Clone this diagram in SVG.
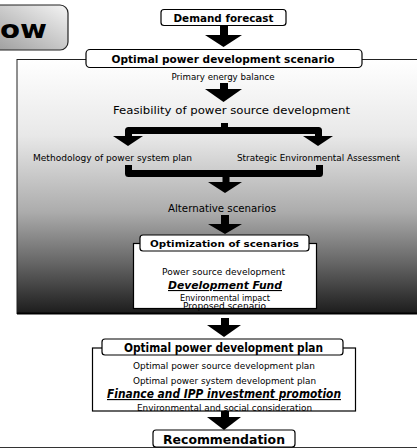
<svg xmlns="http://www.w3.org/2000/svg" width="417" height="448" viewBox="0 0 417 448">
<defs>
<linearGradient id="panelGrad" x1="0" y1="0" x2="0" y2="1">
<stop offset="0" stop-color="#ffffff"/>
<stop offset="0.3" stop-color="#e8e8e8"/>
<stop offset="0.6" stop-color="#acacac"/>
<stop offset="0.8" stop-color="#666666"/>
<stop offset="1" stop-color="#1c1c1c"/>
</linearGradient>
<linearGradient id="owGrad" x1="1" y1="0" x2="0" y2="1">
<stop offset="0" stop-color="#f4f4f4"/>
<stop offset="1" stop-color="#9a9a9a"/>
</linearGradient>
<style>
text{font-family:"DejaVu Sans","Liberation Sans",sans-serif;fill:#000;text-anchor:middle}
.hdr{fill:#fff;stroke:#000;stroke-width:1.2}
.b{font-weight:bold}
.bi{font-weight:bold;font-style:italic;text-decoration:underline}
.arrow{fill:#000}
.fork{fill:none;stroke:#000;stroke-width:7;stroke-linejoin:round}
</style>
</defs>

<g id="ow-tab">
<rect x="-12" y="5" width="80" height="45" rx="8" fill="url(#owGrad)" stroke="#222" stroke-width="1.2"/>
<text x="0" y="38" style="text-anchor:start;font-size:25px;font-weight:bold" textLength="47" lengthAdjust="spacingAndGlyphs">ow</text>
</g>

<g id="panel">
<rect x="17" y="59.5" width="420" height="254" fill="url(#panelGrad)" stroke="#222" stroke-width="1"/>
<line x1="17" y1="313.5" x2="417" y2="313.5" stroke="#000" stroke-width="2"/>
</g>

<g id="connectors">
<rect class="arrow" x="220" y="26" width="8" height="10"/>
<polygon class="arrow" points="205,35 242,35 223.5,47"/>
<rect class="arrow" x="220" y="83" width="8" height="7"/>
<polygon class="arrow" points="205,89 242,89 223.5,102"/>
<path class="fork" d="M224.5,123 V130.5 M128.5,137 V130.5 H318.5 V137"/>
<polygon class="arrow" points="113,136 143,136 128,146"/>
<polygon class="arrow" points="303,136 333,136 318,146"/>
<path class="fork" d="M128.5,165 V173.5 H319.5 V165 M226,173.5 V183"/>
<polygon class="arrow" points="208,182 242,182 225,193"/>
<rect class="arrow" x="221" y="215" width="8" height="10"/>
<polygon class="arrow" points="208,224 242,224 225,234"/>
<rect class="arrow" x="221" y="318" width="8" height="8"/>
<polygon class="arrow" points="207,325 241,325 224,337"/>
<rect class="arrow" x="221" y="410" width="8" height="8"/>
<polygon class="arrow" points="207,417 241,417 224,430"/>
</g>

<g id="demand-forecast">
<rect class="hdr" x="161" y="9.5" width="125" height="16" rx="3"/>
<text class="b" x="223.5" y="21.5" font-size="10" textLength="100" lengthAdjust="spacingAndGlyphs">Demand forecast</text>
</g>

<g id="scenario">
<rect class="hdr" x="86" y="49.5" width="276" height="18" rx="4"/>
<text class="b" x="223" y="63" font-size="10.5" textLength="223" lengthAdjust="spacingAndGlyphs">Optimal power development scenario</text>
</g>

<g id="primary-energy">
<text x="223" y="80" font-size="8" textLength="103" lengthAdjust="spacingAndGlyphs">Primary energy balance</text>
</g>

<g id="feasibility">
<text x="231.5" y="114" font-size="10" textLength="237" lengthAdjust="spacingAndGlyphs">Feasibility of power source development</text>
</g>

<g id="methodology">
<text x="112.5" y="161" font-size="8.5" textLength="159" lengthAdjust="spacingAndGlyphs">Methodology of power system plan</text>
</g>

<g id="sea">
<text x="318.5" y="161" font-size="8.5" textLength="163" lengthAdjust="spacingAndGlyphs">Strategic Environmental Assessment</text>
</g>

<g id="alternative">
<text x="222" y="212" font-size="10.5" textLength="108" lengthAdjust="spacingAndGlyphs">Alternative scenarios</text>
</g>

<g id="optimization">
<rect x="133.5" y="243.5" width="183" height="65" fill="#fff" stroke="#000" stroke-width="1.2"/>
<rect class="hdr" x="140" y="235" width="169" height="16" rx="3"/>
<text class="b" x="224.5" y="247" font-size="9.5" textLength="149" lengthAdjust="spacingAndGlyphs">Optimization of scenarios</text>
<text x="223.5" y="274.5" font-size="8.5" textLength="123" lengthAdjust="spacingAndGlyphs">Power source development</text>
<text class="bi" x="225" y="289" font-size="11" textLength="114" lengthAdjust="spacingAndGlyphs">Development Fund</text>
<text x="225" y="300.5" font-size="8" textLength="90" lengthAdjust="spacingAndGlyphs">Environmental impact</text>
<text x="224.5" y="309" font-size="8" textLength="83" lengthAdjust="spacingAndGlyphs">Proposed scenario</text>
</g>

<g id="plan">
<rect x="92.5" y="348" width="263" height="63" fill="#fff" stroke="#000" stroke-width="1.2"/>
<rect class="hdr" x="102" y="339" width="241" height="16" rx="3"/>
<text class="b" x="223.5" y="352" font-size="11.5" textLength="199" lengthAdjust="spacingAndGlyphs">Optimal power development plan</text>
<text x="224" y="369" font-size="9" textLength="182" lengthAdjust="spacingAndGlyphs">Optimal power source development plan</text>
<text x="224.5" y="384" font-size="9" textLength="183" lengthAdjust="spacingAndGlyphs">Optimal power system development plan</text>
<text class="bi" x="224" y="398" font-size="11.5" textLength="234" lengthAdjust="spacingAndGlyphs">Finance and IPP investment promotion</text>
<text x="224.5" y="411" font-size="9" textLength="175" lengthAdjust="spacingAndGlyphs">Environmental and social consideration</text>
</g>

<g id="recommendation">
<line x1="0" y1="447.5" x2="417" y2="447.5" stroke="#333" stroke-width="1"/>
<rect class="hdr" x="153" y="430" width="142" height="17" rx="3"/>
<text class="b" x="224" y="444" font-size="11.5" textLength="122" lengthAdjust="spacingAndGlyphs">Recommendation</text>
</g>
</svg>
